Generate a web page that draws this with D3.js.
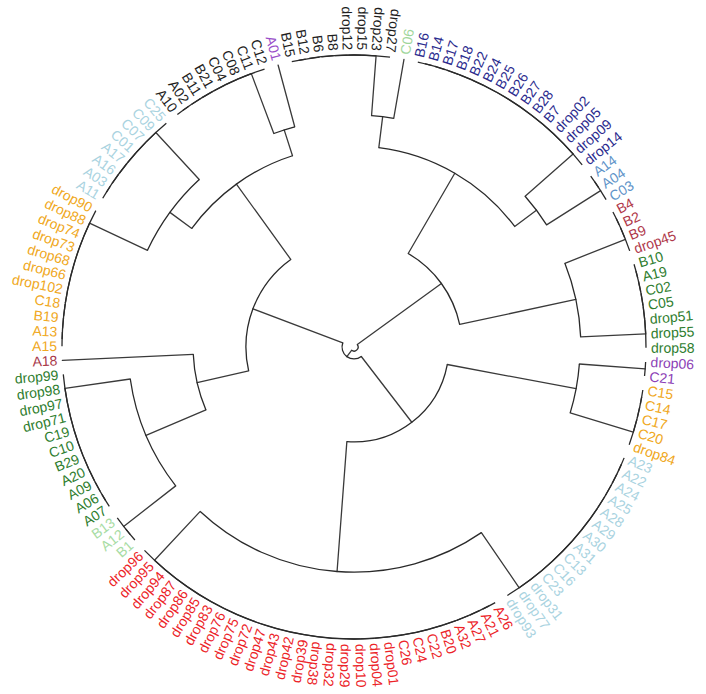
<!DOCTYPE html>
<html><head><meta charset="utf-8">
<script src="https://cdn.jsdelivr.net/npm/d3@7"></script>
<style>body{margin:0;background:#fff}svg{display:block}</style>
</head><body><svg id="c" width="706" height="694"></svg>
<script>
// ---- leaf clusters (clockwise order) ----
const K1 = ["B15","B12","B6","B8","drop12","drop15","drop23","drop27"];
const C06 = ["C06"];
const NAVY = ["B16","B14","B17","B18","B22","B24","B25","B26","B27","B28","B7","drop02","drop05","drop09","drop14"];
const STEEL = ["A14","A04","C03"];
const BROWN = ["B4","B2","B9","drop45"];
const GREEN_R = ["B10","A19","C02","C05","drop51","drop55","drop58"];
const PURPLE = ["drop06","C21"];
const ORANGE_R = ["C15","C14","C17","C20","drop84"];
const LBLUE_R = ["A23","A22","A24","A25","A28","A29","A30","A31","C13","C16","C23","drop31","drop77","drop93"];
const RED = ["A26","A21","A27","A32","B20","C22","C24","C26","drop01","drop04","drop10","drop29","drop32","drop38","drop39","drop42","drop43","drop47","drop72","drop75","drop76","drop83","drop85","drop86","drop87","drop94","drop95","drop96"];
const LGREEN = ["B1","A12","B13"];
const GREEN_L = ["A07","A06","A09","A20","B29","C10","C19","drop71","drop97","drop98","drop99"];
const A18 = ["A18"];
const ORANGE_L = ["A15","A13","B19","C18","drop102","drop66","drop68","drop73","drop74","drop88","drop90"];
const LBLUE_L = ["A11","A03","A16","A17","C01","C07","C09","C25"];
const BLACK = ["A10","A02","B11","B21","C04","C08","C11","C12"];
const A01 = ["A01"];

const clusterNames = ["K1","C06","NAVY","STEEL","BROWN","GREEN_R","PURPLE","ORANGE_R","LBLUE_R","RED","LGREEN","GREEN_L","A18","ORANGE_L","LBLUE_L","BLACK","A01"];
const clusterLeaves = [K1,C06,NAVY,STEEL,BROWN,GREEN_R,PURPLE,ORANGE_R,LBLUE_R,RED,LGREEN,GREEN_L,A18,ORANGE_L,LBLUE_L,BLACK,A01];
const clusterColors = ["#1e1e1e","#9fd69b","#2b2b8e","#5f94c9","#b0384a","#2e7d2e","#8c3fb6","#f0a822","#a9d3df","#ec2328","#a8dca4","#2e7d2e","#a8394a","#f0a822","#a9d3df","#1e1e1e","#9a4fc9"];

// ---- merges: [id, left, right, height] ----
const mergeIds   = ["m1","m2","m3","m4","m5","m6","m7","m8","m9","m10","m11","m12","m13","m14","m15","m16"];
const mergeLeft  = ["K1","NAVY","m1","BROWN","m3","PURPLE","LBLUE_R","m6","LGREEN","m9","ORANGE_L","BLACK","m11","m10","m8","m5"];
const mergeRight = ["C06","STEEL","m2","GREEN_R","m4","ORANGE_R","RED","m7","GREEN_L","A18","LBLUE_L","A01","m12","m13","m14","m15"];
const mergeHeight= [20.5,21.9,31.2,22.3,63.0,22.6,22.9,67.5,22.6,44.9,21.9,21.9,31.2,63.0,95.9,98.6];

// ---- build tree ----
function buildCluster(i){
  const names = clusterLeaves[i], col = clusterColors[i];
  let node = {name:names[0], color:col, height:0};
  for(let k=1;k<names.length;k++){
    node = {children:[node,{name:names[k],color:col,height:0}], height:0};
  }
  return node;
}
function build(id){
  const ci = clusterNames.indexOf(id);
  if(ci>=0) return buildCluster(ci);
  const mi = mergeIds.indexOf(id);
  return {children:[build(mergeLeft[mi]), build(mergeRight[mi])], height:mergeHeight[mi]};
}
const treeData = build("m16");

const cx = 354, cy = 347, R = 292, labelR = 297;
const root = d3.hierarchy(treeData);
const nLeaves = root.leaves().length;
d3.cluster().size([360,1]).separation(()=>1)(root);
const offset = -12.3 - 180/nLeaves;
root.each(d=>{ d.ang = d.x + offset; });

const r = d3.scaleLinear().domain([0,100]).range([R,0]);
const rad = a => a*Math.PI/180;
const pt = (a,rr) => [cx + rr*Math.sin(rad(a)), cy - rr*Math.cos(rad(a))];

const svg = d3.select("#c");
const g = svg.append("g");

// radial segments
root.descendants().filter(d=>d.parent).forEach(d=>{
  const r0 = r(d.data.height), r1 = r(d.parent.data.height);
  if(Math.abs(r0-r1)<0.01) return;
  const p0 = pt(d.ang,r0), p1 = pt(d.ang,r1);
  g.append("line").attr("x1",p0[0]).attr("y1",p0[1]).attr("x2",p1[0]).attr("y2",p1[1])
    .attr("stroke","#3a3a3a").attr("stroke-width",1.3).attr("stroke-linecap","round");
});
// arcs
root.descendants().filter(d=>d.children).forEach(d=>{
  const rr = r(d.data.height);
  const angs = d.children.map(c=>c.ang);
  const a0 = d3.min(angs), a1 = d3.max(angs);
  const p0 = pt(a0,rr), p1 = pt(a1,rr);
  const large = (a1-a0)>180?1:0;
  g.append("path").attr("d",`M${p0[0]},${p0[1]}A${rr},${rr} 0 ${large} 1 ${p1[0]},${p1[1]}`)
    .attr("fill","none").attr("stroke","#2a2a2a").attr("stroke-width",1.3);
});

// labels
root.leaves().forEach(d=>{
  const a = d.ang;
  const m = ((a - 8.5) % 360 + 360) % 360;
  const flip = m > 180;
  g.append("text")
    .attr("transform",`translate(${cx},${cy}) rotate(${a-90}) translate(${labelR},0)` + (flip?" rotate(180)":""))
    .attr("text-anchor", flip?"end":"start")
    .attr("dy","0.35em")
    .attr("font-family","'Liberation Sans', Arial, sans-serif")
    .attr("font-size",14)
    .attr("fill",d.data.color)
    .text(d.data.name);
});
</script></body></html>
